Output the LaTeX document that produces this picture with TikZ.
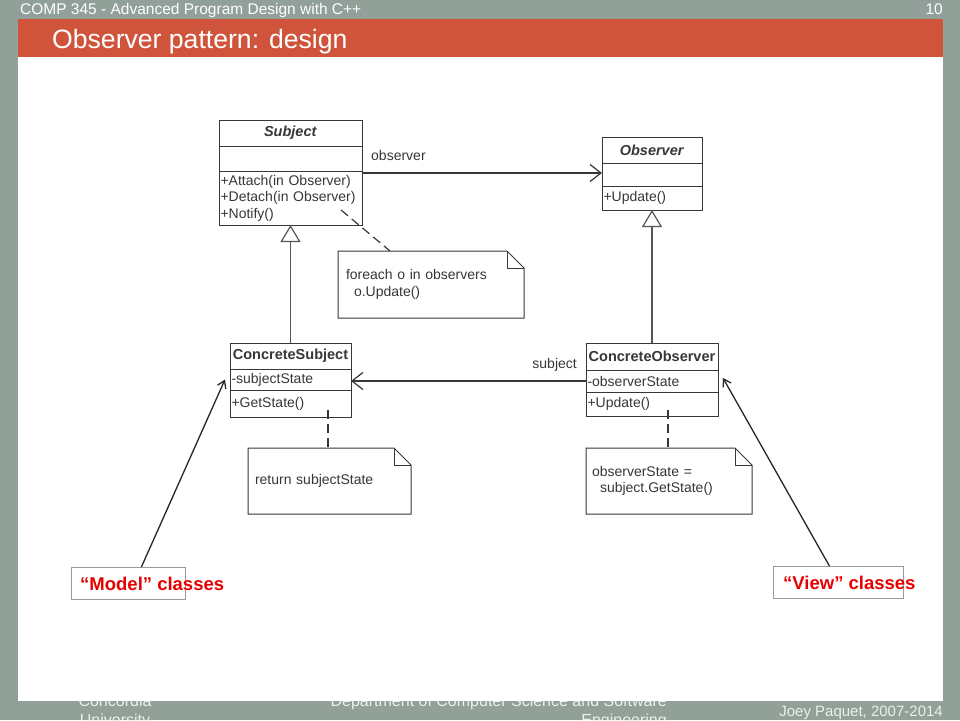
\documentclass[tikz,border=0pt]{standalone}
\usepackage{fontspec}
\setmainfont{Liberation Sans}
\usetikzlibrary{positioning,arrows.meta}
\definecolor{slidebg}{RGB}{145,160,152}
\definecolor{titlebar}{RGB}{208,84,59}
\definecolor{umlgray}{RGB}{55,55,55}
\definecolor{labelred}{RGB}{232,0,0}
\definecolor{footgray}{RGB}{236,240,236}
\tikzset{%
  umlfont/.style  = {font=\fontsize{14}{16.5}\selectfont, text=umlgray},%
  compart/.style  = {draw=umlgray, line width=1pt, inner sep=0pt, outer sep=0pt,%
                     umlfont},%
  classname/.style= {compart, font=\fontsize{14.5}{16.5}\selectfont\bfseries},%
  members/.style  = {compart, align=left, inner xsep=1.5pt},%
  notebox/.style  = {inner sep=0pt, outer sep=0pt, align=left, umlfont},%
  noteline/.style = {draw=umlgray, line width=1pt},%
  assoc/.style    = {draw=umlgray, line width=1.2pt,%
                     -{Straight Barb[length=11pt,width=17pt]}},%
  inherit/.style  = {draw=umlgray!85, line width=1.6pt,%
                     -{Triangle[open,length=17pt,width=20pt,line width=1.2pt]}},%
  anchorline/.style = {draw=umlgray, line width=1.2pt, dash pattern=on 9pt off 5pt},%
  tagbox/.style   = {draw=gray!80, line width=0.8pt, fill=white, inner sep=0pt},%
  tagtext/.style  = {font=\fontsize{18.5}{20}\selectfont\bfseries, text=labelred,%
                     inner sep=0pt, anchor=west},%
  pointer/.style  = {draw=black!85, line width=1.3pt,%
                     -{Straight Barb[length=7pt,width=9pt]}},%
  foot/.style     = {font=\fontsize{16}{18}\selectfont, text=footgray, inner sep=0pt}%
}
\begin{document}
\begin{tikzpicture}[x=1pt,y=-1pt]
	\useasboundingbox (0,0) rectangle (960,720);
	\clip (0,0) rectangle (960,720);
	% slide frame
	\fill[slidebg] (0,0) rectangle (960,720);
	\node[foot, anchor=base] (uni1) at (115,706) {Concordia};
	\node[foot, anchor=base] (uni2) at (115,725) {University};
	\node[foot, anchor=base east] (dept1) at (667,706) {Department of Computer Science and Software};
	\node[foot, anchor=base east] (dept2) at (667,725) {Engineering};
	\fill[white] (18,57) rectangle (943,701);
	\fill[titlebar] (18,19) rectangle (943,57);
	\node[foot, anchor=base east, font=\fontsize{15}{17}\selectfont] (author) at (943,716) {Joey Paquet, 2007-2014};
	\node[anchor=base west, inner sep=0pt, text=white, font=\fontsize{15.5}{17}\selectfont] (course) at (20,14) {COMP 345 - Advanced Program Design with C++};
	\node[anchor=base east, inner sep=0pt, text=white, font=\fontsize{15.5}{17}\selectfont] (page) at (943,14) {10};
	\node[anchor=base west, inner sep=0pt, text=white, font=\fontsize{26.6}{30}\selectfont] (title) at (52,48) {Observer pattern: design};

	% Subject
	\node[classname, anchor=north west, minimum width=143pt, minimum height=26pt] (subjname) at (219,120) {\textit{Subject}};
	\node[compart, below=0pt of subjname, minimum width=143pt, minimum height=25pt] (subjattr) {};
	\node[members, below=0pt of subjattr, text width=140pt, minimum height=54pt] (subjops)
		{+Attach(in Observer)\\+Detach(in Observer)\\+Notify()};
	% Observer
	\node[classname, anchor=north west, minimum width=100pt, minimum height=26pt] (obsname) at (602,137) {\textit{Observer}};
	\node[compart, below=0pt of obsname, minimum width=100pt, minimum height=23pt] (obsattr) {};
	\node[members, below=0pt of obsattr, text width=97pt, minimum height=24pt] (obsops) {+Update()};
	% ConcreteSubject
	\node[classname, anchor=north west, minimum width=121pt, minimum height=26pt] (csname) at (230,343) {ConcreteSubject};
	\node[members, below=0pt of csname, text width=118pt, minimum height=21pt] (csattr) {-subjectState};
	\node[members, below=0pt of csattr, text width=118pt, minimum height=27pt] (csops) {+GetState()};
	% ConcreteObserver
	\node[classname, anchor=north west, minimum width=132pt, minimum height=27pt] (coname) at (586,343) {ConcreteObserver};
	\node[members, below=0pt of coname, text width=129pt, minimum height=22pt] (coattr) {-observerState};
	\node[members, below=0pt of coattr, text width=129pt, minimum height=24pt] (coops) {+Update()};

	% notes
	\node[notebox, anchor=north west, minimum width=186pt, minimum height=67pt, text width=170pt, inner xsep=8pt] (loopnote) at (338,251)
		{foreach o in observers\\\hspace*{8pt}o.Update()};
	\node[notebox, anchor=north west, minimum width=163pt, minimum height=66pt, text width=149pt, inner xsep=7pt] (statenote) at (248,448)
		{return subjectState};
	\node[notebox, anchor=north west, minimum width=166pt, minimum height=66pt, text width=154pt, inner xsep=6pt] (updatenote) at (586,448)
		{observerState =\\\hspace*{8pt}subject.GetState()};
	\foreach \n in {loopnote,statenote,updatenote}{
		\draw[noteline] (\n.south west) -- (\n.north west) -- ([xshift=-17pt]\n.north east)
			-- ([yshift=-17pt]\n.north east) -- (\n.south east) -- cycle;
		\draw[noteline] ([xshift=-17pt]\n.north east) |- ([yshift=-17pt]\n.north east);
	}

	% relations
	\draw[assoc] ([yshift=-2pt]subjattr.south east) -- ([yshift=-2pt]subjattr.south east -| obsattr.west);
	\node[umlfont, anchor=base west, inner sep=0pt] (obslabel) at (371,160) {observer};
	\draw[assoc] (coattr.west) -- (coattr.west -| csattr.east);
	\node[umlfont, anchor=base east, inner sep=0pt] (subjlabel) at (577,368) {subject};
	\draw[inherit] (csname.north) -- (subjops.south);
	\draw[inherit] (coname.north) -- (obsops.south);
	\coordinate (notifyend) at (341,210);
	\draw[anchorline] (notifyend) -- ([xshift=52pt]loopnote.north west);
	\coordinate (getstateend) at (328,410);
	\draw[anchorline] (getstateend) -- (getstateend |- statenote.north);
	\coordinate (updateend) at (668,410);
	\draw[anchorline] (updateend) -- (updateend |- updatenote.north);

	% callouts
	\node[tagbox, anchor=north west, minimum width=114pt, minimum height=32pt] (modelbox) at (71,567) {};
	\node[tagtext] (modeltext) at ([xshift=9pt]modelbox.west) {``Model'' classes};
	\node[tagbox, anchor=north west, minimum width=130pt, minimum height=32pt] (viewbox) at (773,566) {};
	\node[tagtext] (viewtext) at ([xshift=10pt]viewbox.west) {``View'' classes};
	\draw[pointer] ([xshift=13pt]modelbox.north) -- ([xshift=-5pt]csattr.west);
	\draw[pointer] ([xshift=-9pt]viewbox.north) -- ([xshift=5pt,yshift=3pt]coattr.east);
\end{tikzpicture}
\end{document}
